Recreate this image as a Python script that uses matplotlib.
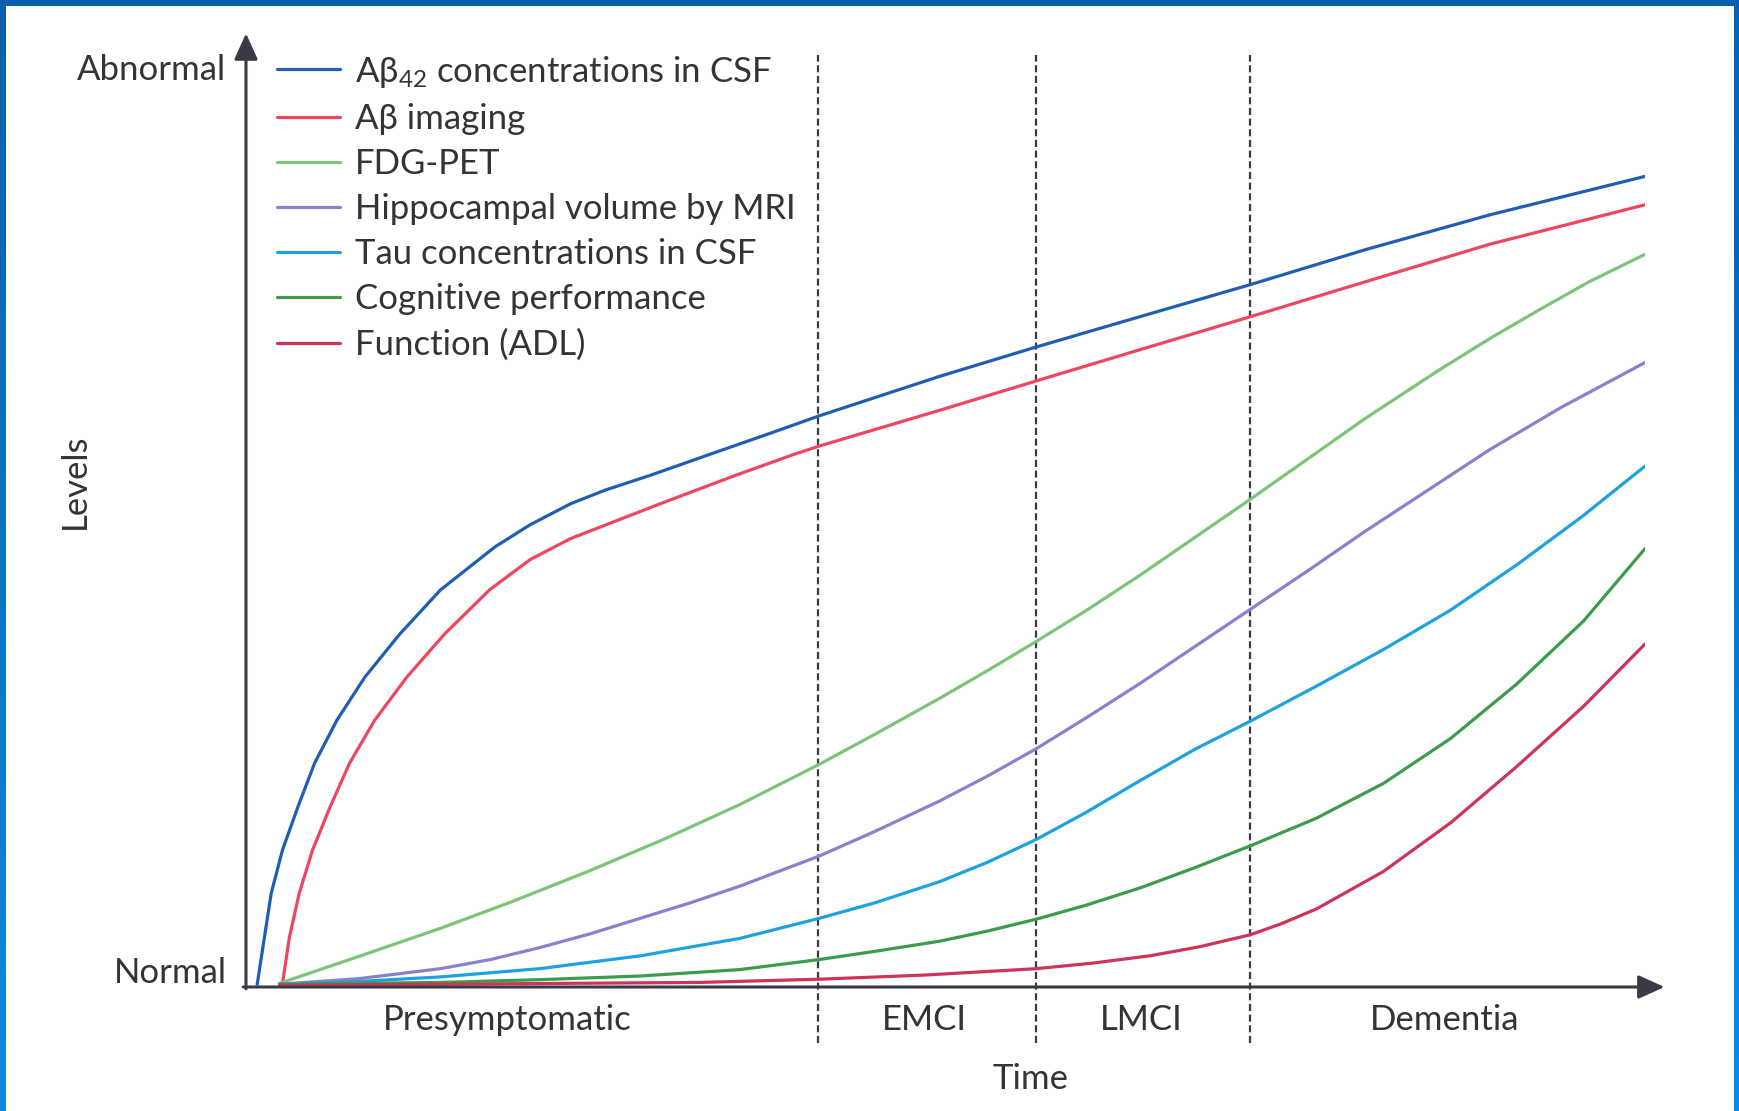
"""Hypothetical model of biomarker dynamics across the Alzheimer's disease course."""
import matplotlib

matplotlib.use("Agg")
import matplotlib.pyplot as plt
import numpy as np
from matplotlib.colors import LinearSegmentedColormap
from matplotlib.patches import Rectangle

FONT = ["Lato", "DejaVu Sans"]
plt.rcParams.update(
    {
        "font.family": FONT,
        "mathtext.fontset": "custom",
        "mathtext.rm": FONT[0],
        "mathtext.default": "regular",
        "text.color": "#333338",
    }
)

INK = "#3a3a46"

# time runs 0..100 from the y axis to the end of the curves; level 0 = normal, 100 = abnormal
stage_bounds = [40.9, 56.5, 71.8]
stage_names = ["Presymptomatic", "EMCI", "LMCI", "Dementia"]
stage_centres = [18.7, 48.5, 64.0, 85.7]

abeta_csf_t = [0.8, 1.8, 2.6, 3.7, 4.9, 6.5, 8.5, 11.0, 13.9, 17.8, 20.3, 23.2, 25.7, 28.9,
               32.8, 37.5, 41.0, 49.6, 56.5, 63.9, 71.8, 80.0, 88.9, 100]
abeta_csf_v = [0.3, 10.2, 14.9, 19.6, 24.4, 29.1, 33.8, 38.5, 43.3, 48.0, 50.4, 52.7, 54.2, 55.8,
               57.9, 60.4, 62.3, 66.6, 69.8, 73.1, 76.6, 80.4, 84.2, 88.4]

abeta_img_t = [2.6, 3.1, 3.8, 4.75, 6.0, 7.4, 9.2, 11.5, 14.2, 17.4, 20.3, 23.2, 26.4, 30.3,
               35.0, 39.2, 41.0, 49.6, 56.5, 63.9, 71.8, 80.0, 88.9, 100]
abeta_img_v = [0.3, 5.4, 10.2, 14.9, 19.6, 24.4, 29.1, 33.8, 38.5, 43.3, 46.6, 48.9, 50.8, 53.1,
               55.8, 58.1, 59.0, 62.9, 66.1, 69.5, 73.1, 76.9, 81.0, 85.3]

fdg_t = [2.4, 8.0, 13.9, 19.0, 24.6, 30.0, 35.3, 41.0, 45.0, 49.6, 53.0, 56.5, 60.0, 63.9,
         67.8, 71.8, 76.0, 80.0, 85.3, 89.0, 92.5, 96.0, 100]
fdg_v = [0.4, 3.3, 6.4, 9.3, 12.7, 16.2, 19.9, 24.3, 27.6, 31.5, 34.5, 37.7, 41.0, 44.9,
         49.0, 53.2, 57.7, 62.0, 67.3, 70.8, 73.9, 76.9, 79.9]

hippo_t = [2.4, 8.0, 13.9, 17.5, 21.0, 24.6, 28.2, 31.8, 35.3, 41.0, 45.0, 49.6, 53.0, 56.5,
           60.0, 63.9, 67.8, 71.8, 76.0, 80.0, 84.5, 88.9, 94.0, 100]
hippo_v = [0.3, 0.9, 2.0, 3.0, 4.3, 5.8, 7.5, 9.2, 11.0, 14.3, 17.0, 20.3, 23.0, 26.0,
           29.3, 33.1, 37.1, 41.2, 45.5, 49.7, 54.2, 58.6, 63.2, 68.1]

tau_t = [2.4, 8.0, 13.9, 21.0, 28.2, 35.3, 41.0, 45.0, 49.6, 53.0, 56.5, 60.0, 63.9, 67.8,
         71.8, 76.5, 81.3, 86.1, 90.8, 95.5, 100]
tau_v = [0.3, 0.6, 1.1, 2.0, 3.4, 5.3, 7.5, 9.2, 11.5, 13.6, 16.1, 19.0, 22.5, 25.9,
         29.0, 32.8, 36.8, 41.1, 46.0, 51.3, 56.8]

cog_t = [2.4, 13.9, 21.0, 28.2, 35.3, 41.0, 45.0, 49.6, 53.0, 56.5, 60.0, 63.9, 67.8, 71.8,
         76.5, 81.3, 86.1, 90.8, 95.6, 100]
cog_v = [0.3, 0.5, 0.8, 1.2, 1.9, 3.0, 3.9, 5.0, 6.1, 7.4, 8.9, 10.8, 13.0, 15.4,
         18.4, 22.2, 27.1, 33.0, 39.9, 47.8]

adl_t = [2.4, 13.9, 32.5, 41.0, 48.5, 56.5, 60.5, 64.6, 68.2, 71.8, 74.0, 76.5, 81.3, 86.1,
         90.8, 95.6, 100]
adl_v = [0.2, 0.3, 0.5, 0.85, 1.3, 2.0, 2.6, 3.4, 4.4, 5.7, 6.9, 8.5, 12.6, 17.9,
         24.0, 30.6, 37.4]

series = [
    ("Aβ$_{42}$ concentrations in CSF", abeta_csf_t, abeta_csf_v, "#1f5eb0"),
    ("Aβ imaging", abeta_img_t, abeta_img_v, "#ec4660"),
    ("FDG-PET", fdg_t, fdg_v, "#7cc478"),
    ("Hippocampal volume by MRI", hippo_t, hippo_v, "#8682cc"),
    ("Tau concentrations in CSF", tau_t, tau_v, "#1ea2de"),
    ("Cognitive performance", cog_t, cog_v, "#3c9c4c"),
    ("Function (ADL)", adl_t, adl_v, "#cc3458"),
]

W, H = 1739, 1111
fig = plt.figure(figsize=(W / 100, H / 100), dpi=100)

# blue slide frame with a white panel
bg = fig.add_axes([0, 0, 1, 1])
frame = LinearSegmentedColormap.from_list("frame", ["#0860aa", "#0a74c6", "#0a8ce4"])
bg.imshow(np.linspace(0, 1, 256)[:, None], aspect="auto", cmap=frame, extent=[0, 1, 0, 1])
bg.add_patch(Rectangle((6 / W, 0), 1728 / W, 1105 / H, transform=bg.transAxes,
                       facecolor="white", edgecolor="none"))
bg.set_axis_off()

ax = fig.add_axes([246 / W, 124 / H, 1399 / W, 917 / H])
ax.set_xlim(0, 100)
ax.set_ylim(0, 100)
ax.set_axis_off()
ax.patch.set_alpha(0)

lines = []
for label, t, v, color in series:
    (ln,) = ax.plot(t, v, color=color, lw=2.3, label=label, solid_capstyle="round",
                    solid_joinstyle="round", zorder=3)
    lines.append(ln)

# stage boundaries
ax.vlines(stage_bounds, -6.1, 101.6, colors=INK, linestyles=(0, (3.2, 1.6)), lw=1.6,
          clip_on=False, zorder=2)

# arrowed axes
head = dict(arrowstyle="-|>,head_length=0.8,head_width=0.36", mutation_scale=20,
            color=INK, lw=2.2, shrinkA=0, shrinkB=0)
ax.annotate("", xy=(0, 104.0), xytext=(0, -0.2), arrowprops=head, annotation_clip=False)
ax.annotate("", xy=(101.4, 0), xytext=(-0.2, 0), arrowprops=head, annotation_clip=False)

fs = 25
ax.text(-1.4, 100, "Abnormal", ha="right", va="center", fontsize=fs)
ax.text(-1.4, 1.5, "Normal", ha="right", va="center", fontsize=fs)
ax.text(-12.2, 55.1, "Levels", ha="center", va="center", rotation=90, fontsize=fs)
ax.text(56.1, -10.0, "Time", ha="center", va="center", fontsize=fs)
for name, x in zip(stage_names, stage_centres):
    ax.text(x, -3.6, name, ha="center", va="center", fontsize=fs)

ax.legend(handles=lines, loc="upper left", bbox_to_anchor=(277 / W, 1 - 53.5 / H),
          bbox_transform=fig.transFigure, frameon=False, fontsize=fs, borderpad=0,
          borderaxespad=0, handlelength=1.8, handletextpad=0.45, labelspacing=0.38)

fig.savefig("out.png", dpi=100)
